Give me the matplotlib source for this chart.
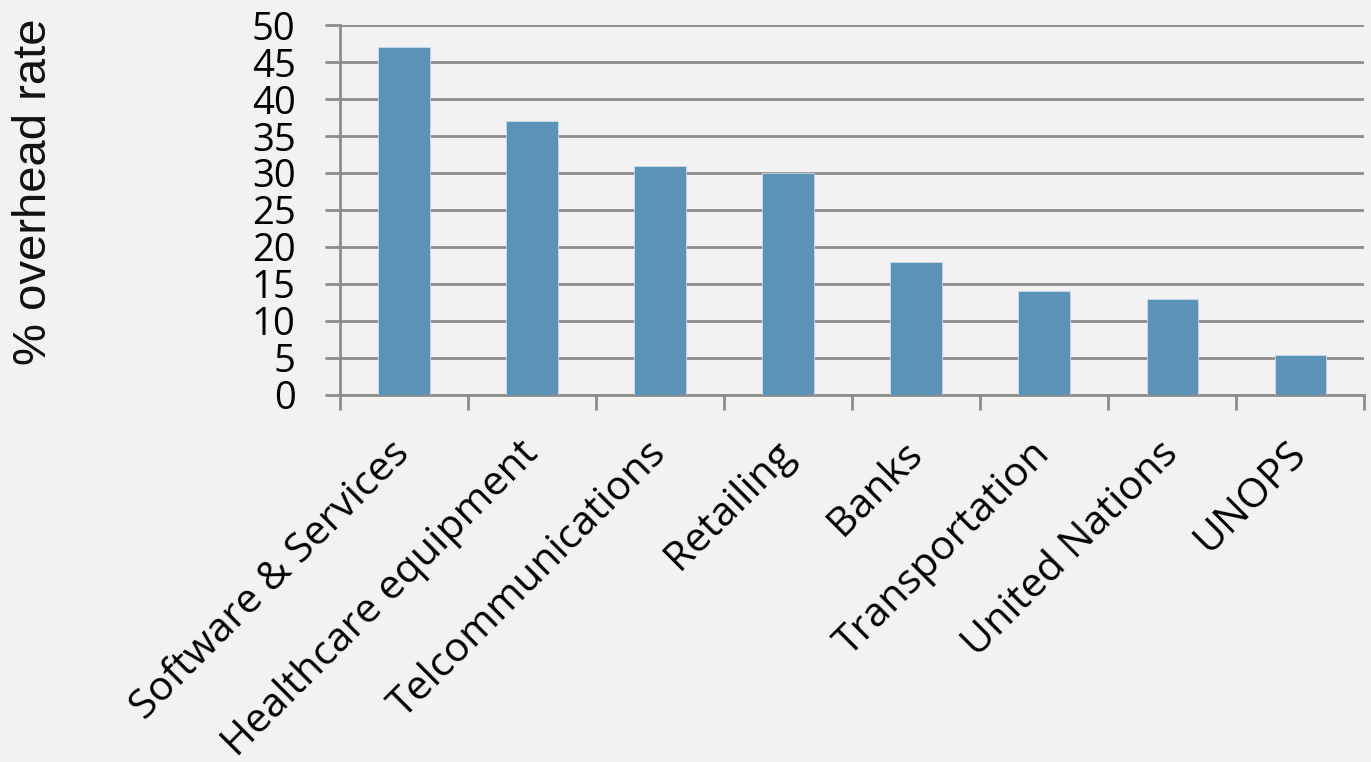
import matplotlib.pyplot as plt
import numpy as np

# data
categories = ["Software & Services", "Healthcare equipment", "Telcommunications",
              "Retailing", "Banks", "Transportation", "United Nations", "UNOPS"]
overhead = [47, 37, 31, 30, 18, 14, 13, 5.4]
y_ticks = [0, 5, 10, 15, 20, 25, 30, 35, 40, 45, 50]

bg = "#f2f2f2"
bar_color = "#5b92b8"
grid_color = "#8c8c8c"

fig = plt.figure(figsize=(13.71, 7.62), dpi=100, facecolor=bg)
ax = fig.add_axes([0.248, 0.482, 0.747, 0.485])
ax.set_facecolor("none")

x = np.arange(len(categories))
ax.bar(x, overhead, width=0.4, color=bar_color, edgecolor="#c9dcea",
       linewidth=0.6, zorder=3)

ax.set_xlim(-0.5, len(categories) - 0.5)
ax.set_ylim(0, 50)
ax.set_yticks(y_ticks)
ax.set_yticklabels([str(v) for v in y_ticks], fontsize=27.5, family="Open Sans")
ax.yaxis.grid(True, color=grid_color, linewidth=2, zorder=0)
ax.tick_params(axis="y", length=11, width=2, color=grid_color, pad=21)

# labels at bar centres, tick marks at category boundaries
ax.set_xticks(x)
ax.set_xticklabels(categories, fontsize=29.5, family="Open Sans",
                   rotation=45, ha="right", va="center", rotation_mode="anchor")
ax.tick_params(axis="x", which="major", length=0, pad=38)
ax.set_xticks(np.arange(len(categories) + 1) - 0.5, minor=True)
ax.tick_params(axis="x", which="minor", length=11, width=2, color=grid_color)

for s in ["top", "right"]:
    ax.spines[s].set_visible(False)
for s in ["left", "bottom"]:
    ax.spines[s].set_color(grid_color)
    ax.spines[s].set_linewidth(2)

fig.text(0.025, 0.748, "% overhead rate", rotation=90, fontsize=34,
         family="Liberation Sans", color="#111111", ha="center", va="center")

fig.savefig("out.png", dpi=100, facecolor=bg)
